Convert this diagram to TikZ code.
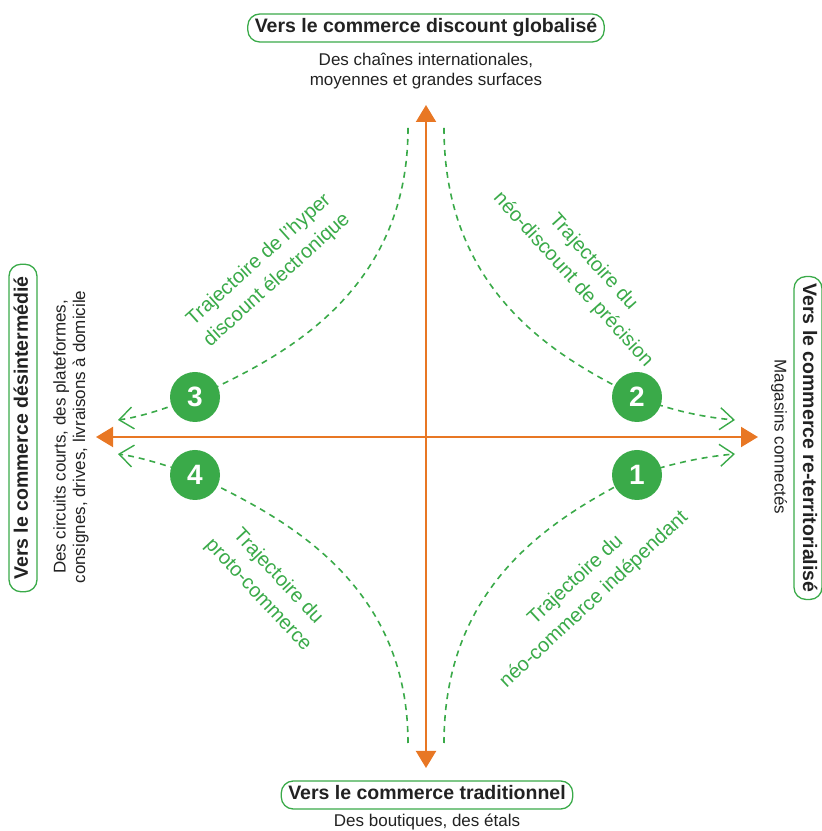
\documentclass[tikz,border=0pt]{standalone}
\usepackage{fontspec}
\setmainfont{Liberation Sans}
\usetikzlibrary{arrows.meta}
\definecolor{axeorange}{RGB}{232,119,36}
\definecolor{trajvert}{RGB}{58,170,73}
\definecolor{texte}{RGB}{34,34,34}
\tikzset{
	axe/.style={draw=axeorange, line width=2pt, {Triangle[width=20pt,length=17pt]}-{Triangle[width=20pt,length=17pt]}},
	traj/.style={draw=trajvert, line width=1.6pt, dash pattern=on 6pt off 5pt, -{Straight Barb[length=14pt,width=22pt,line width=1.4pt]}},
	titre/.style={draw=trajvert, line width=1.3pt, rounded corners=12pt, fill=white, text=texte, font=\bfseries\fontsize{19.5}{22}\selectfont, text height=14pt, text depth=4pt, inner xsep=7pt, inner ysep=5pt},
	soustitre/.style={text=texte, align=center, font=\fontsize{17}{19.5}\selectfont},
	etiquette/.style={text=trajvert, align=center, font=\fontsize{20}{27}\selectfont},
	pastille/.style={circle, fill=trajvert, minimum size=50pt, inner sep=0pt, text=white, font=\bfseries\fontsize{28}{28}\selectfont}
}
\begin{document}
\begin{tikzpicture}[x=1pt,y=1pt]
		\useasboundingbox (0,0) rectangle (822,831);
		
		\coordinate (haut) at (426,726);
		\coordinate (bas) at (426,63);
		\coordinate (gauche) at (96,394);
		\coordinate (droite) at (758,394);
		
		\coordinate (p1) at (637,356);
		\coordinate (p2) at (637,434);
		\coordinate (p3) at (195,434);
		\coordinate (p4) at (195,356);
		
		\coordinate (hg-depart) at (408,703);
		\coordinate (hg-fin) at (118,411);
		\coordinate (hd-depart) at (444,703);
		\coordinate (hd-fin) at (735,411);
		\coordinate (bg-depart) at (408,88);
		\coordinate (bg-fin) at (118,377);
		\coordinate (bd-depart) at (444,88);
		\coordinate (bd-fin) at (735,377);
		
		\draw[traj] (hg-depart) .. controls (408,531) and (270,469) .. (p3) .. controls (165,422) and (140,414) .. (hg-fin);
		\draw[traj] (hd-depart) .. controls (444,531) and (568,469) .. (p2) .. controls (667,422) and (700,414) .. (hd-fin);
		\draw[traj] (bg-depart) .. controls (408,257) and (270,319) .. (p4) .. controls (165,366) and (140,374) .. (bg-fin);
		\draw[traj] (bd-depart) .. controls (444,257) and (568,319) .. (p1) .. controls (667,366) and (700,374) .. (bd-fin);
		
		\draw[axe] (bas) -- (haut);
		\draw[axe] (gauche) -- (droite);
		
		\node[pastille] (n1) at (p1) {1};
		\node[pastille] (n2) at (p2) {2};
		\node[pastille] (n3) at (p3) {3};
		\node[pastille] (n4) at (p4) {4};
		
		\node[titre] (t-haut) at (426,803) {Vers le commerce discount globalisé};
		\node[soustitre] (s-haut) at (426,760) {Des chaînes internationales,\\moyennes et grandes surfaces};
		\node[titre] (t-bas) at (427,36) {Vers le commerce traditionnel};
		\node[soustitre] (s-bas) at (427,9) {Des boutiques, des étals};
		\node[titre, rotate=90, inner xsep=12pt] (t-gauche) at (23,403) {Vers le commerce désintermédié};
		\node[soustitre, rotate=90] (s-gauche) at (71,394) {Des circuits courts, des plateformes,\\consignes, drives, livraisons à domicile};
		\node[titre, rotate=-90] (t-droite) at (808,393) {Vers le commerce re-territorialisé};
		\node[soustitre, rotate=-90] (s-droite) at (779,394) {Magasins connectés};
		
		\node[etiquette, rotate=42] (e3) at (268,561) {Trajectoire de l’hyper\\discount électronique};
		\node[etiquette, rotate=-48] (e2) at (583,560) {Trajectoire du\\néo-discount de précision};
		\node[etiquette, rotate=-47] (e4) at (268,245) {Trajectoire du\\proto-commerce};
		\node[etiquette, rotate=43] (e1) at (585,241) {Trajectoire du\\néo-commerce indépendant};
	\end{tikzpicture}
\end{document}
